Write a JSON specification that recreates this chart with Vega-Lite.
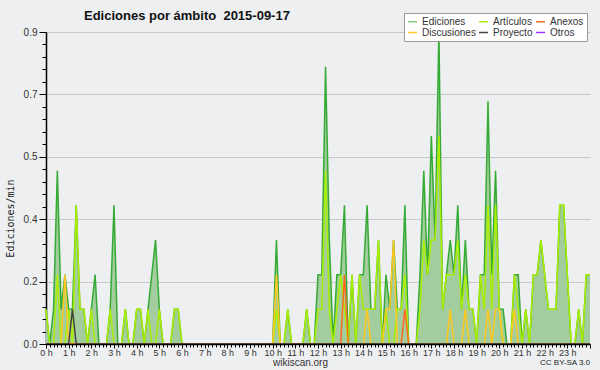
{
 "$schema": "https://vega.github.io/schema/vega-lite/v6.json",
 "width": 544,
 "height": 312,
 "autosize": {"type": "none"},
 "padding": {"left": 46, "top": 32, "right": 10, "bottom": 26},
 "background": "#eeeff1",
 "view": {"fill": "#eeeff1", "stroke": null},
 "title": {"text": "Ediciones por ámbito \u00a02015-09-17", "anchor": "start", "frame": "group", "dx": 38, "offset": -10, "font": "Liberation Sans", "fontSize": 13, "fontWeight": "bold", "color": "#111111"},
 "data": {"values": [
  {"t":0,"Ediciones":0.1,"Artículos":0.1,"Discusiones":0,"Anexos":0,"Proyecto":0},
  {"t":10,"Ediciones":0,"Artículos":0,"Discusiones":0,"Anexos":0,"Proyecto":0},
  {"t":20,"Ediciones":0.1,"Artículos":0,"Discusiones":0,"Anexos":0,"Proyecto":0},
  {"t":30,"Ediciones":0.5,"Artículos":0.2,"Discusiones":0,"Anexos":0,"Proyecto":0},
  {"t":40,"Ediciones":0.1,"Artículos":0,"Discusiones":0,"Anexos":0,"Proyecto":0},
  {"t":50,"Ediciones":0.2,"Artículos":0,"Discusiones":0.2,"Anexos":0,"Proyecto":0},
  {"t":60,"Ediciones":0.1,"Artículos":0.1,"Discusiones":0,"Anexos":0,"Proyecto":0},
  {"t":70,"Ediciones":0.1,"Artículos":0,"Discusiones":0,"Anexos":0,"Proyecto":0.1},
  {"t":80,"Ediciones":0.4,"Artículos":0.4,"Discusiones":0,"Anexos":0,"Proyecto":0},
  {"t":90,"Ediciones":0.1,"Artículos":0.1,"Discusiones":0,"Anexos":0,"Proyecto":0},
  {"t":100,"Ediciones":0.1,"Artículos":0.1,"Discusiones":0,"Anexos":0,"Proyecto":0},
  {"t":110,"Ediciones":0,"Artículos":0,"Discusiones":0,"Anexos":0,"Proyecto":0},
  {"t":120,"Ediciones":0.1,"Artículos":0.1,"Discusiones":0,"Anexos":0,"Proyecto":0},
  {"t":130,"Ediciones":0.2,"Artículos":0,"Discusiones":0,"Anexos":0,"Proyecto":0},
  {"t":140,"Ediciones":0,"Artículos":0,"Discusiones":0,"Anexos":0,"Proyecto":0},
  {"t":150,"Ediciones":0,"Artículos":0,"Discusiones":0,"Anexos":0,"Proyecto":0},
  {"t":160,"Ediciones":0,"Artículos":0,"Discusiones":0,"Anexos":0,"Proyecto":0},
  {"t":170,"Ediciones":0.1,"Artículos":0.1,"Discusiones":0,"Anexos":0,"Proyecto":0},
  {"t":180,"Ediciones":0.4,"Artículos":0,"Discusiones":0,"Anexos":0,"Proyecto":0},
  {"t":190,"Ediciones":0,"Artículos":0,"Discusiones":0,"Anexos":0,"Proyecto":0},
  {"t":200,"Ediciones":0,"Artículos":0,"Discusiones":0,"Anexos":0,"Proyecto":0},
  {"t":210,"Ediciones":0.1,"Artículos":0.1,"Discusiones":0,"Anexos":0,"Proyecto":0},
  {"t":220,"Ediciones":0,"Artículos":0,"Discusiones":0,"Anexos":0,"Proyecto":0},
  {"t":230,"Ediciones":0,"Artículos":0,"Discusiones":0,"Anexos":0,"Proyecto":0},
  {"t":240,"Ediciones":0.1,"Artículos":0.1,"Discusiones":0,"Anexos":0,"Proyecto":0},
  {"t":250,"Ediciones":0.1,"Artículos":0.1,"Discusiones":0,"Anexos":0,"Proyecto":0},
  {"t":260,"Ediciones":0,"Artículos":0,"Discusiones":0,"Anexos":0,"Proyecto":0},
  {"t":270,"Ediciones":0.1,"Artículos":0.1,"Discusiones":0,"Anexos":0,"Proyecto":0},
  {"t":280,"Ediciones":0.2,"Artículos":0,"Discusiones":0,"Anexos":0,"Proyecto":0},
  {"t":290,"Ediciones":0.3,"Artículos":0,"Discusiones":0,"Anexos":0,"Proyecto":0},
  {"t":300,"Ediciones":0.1,"Artículos":0.1,"Discusiones":0,"Anexos":0,"Proyecto":0},
  {"t":310,"Ediciones":0,"Artículos":0,"Discusiones":0,"Anexos":0,"Proyecto":0},
  {"t":320,"Ediciones":0,"Artículos":0,"Discusiones":0,"Anexos":0,"Proyecto":0},
  {"t":330,"Ediciones":0,"Artículos":0,"Discusiones":0,"Anexos":0,"Proyecto":0},
  {"t":340,"Ediciones":0.1,"Artículos":0.1,"Discusiones":0,"Anexos":0,"Proyecto":0},
  {"t":350,"Ediciones":0.1,"Artículos":0.1,"Discusiones":0,"Anexos":0,"Proyecto":0},
  {"t":360,"Ediciones":0,"Artículos":0,"Discusiones":0,"Anexos":0,"Proyecto":0},
  {"t":370,"Ediciones":0,"Artículos":0,"Discusiones":0,"Anexos":0,"Proyecto":0},
  {"t":380,"Ediciones":0,"Artículos":0,"Discusiones":0,"Anexos":0,"Proyecto":0},
  {"t":390,"Ediciones":0,"Artículos":0,"Discusiones":0,"Anexos":0,"Proyecto":0},
  {"t":400,"Ediciones":0,"Artículos":0,"Discusiones":0,"Anexos":0,"Proyecto":0},
  {"t":410,"Ediciones":0,"Artículos":0,"Discusiones":0,"Anexos":0,"Proyecto":0},
  {"t":420,"Ediciones":0,"Artículos":0,"Discusiones":0,"Anexos":0,"Proyecto":0},
  {"t":430,"Ediciones":0,"Artículos":0,"Discusiones":0,"Anexos":0,"Proyecto":0},
  {"t":440,"Ediciones":0,"Artículos":0,"Discusiones":0,"Anexos":0,"Proyecto":0},
  {"t":450,"Ediciones":0,"Artículos":0,"Discusiones":0,"Anexos":0,"Proyecto":0},
  {"t":460,"Ediciones":0,"Artículos":0,"Discusiones":0,"Anexos":0,"Proyecto":0},
  {"t":470,"Ediciones":0,"Artículos":0,"Discusiones":0,"Anexos":0,"Proyecto":0},
  {"t":480,"Ediciones":0,"Artículos":0,"Discusiones":0,"Anexos":0,"Proyecto":0},
  {"t":490,"Ediciones":0,"Artículos":0,"Discusiones":0,"Anexos":0,"Proyecto":0},
  {"t":500,"Ediciones":0,"Artículos":0,"Discusiones":0,"Anexos":0,"Proyecto":0},
  {"t":510,"Ediciones":0,"Artículos":0,"Discusiones":0,"Anexos":0,"Proyecto":0},
  {"t":520,"Ediciones":0,"Artículos":0,"Discusiones":0,"Anexos":0,"Proyecto":0},
  {"t":530,"Ediciones":0,"Artículos":0,"Discusiones":0,"Anexos":0,"Proyecto":0},
  {"t":540,"Ediciones":0,"Artículos":0,"Discusiones":0,"Anexos":0,"Proyecto":0},
  {"t":550,"Ediciones":0,"Artículos":0,"Discusiones":0,"Anexos":0,"Proyecto":0},
  {"t":560,"Ediciones":0,"Artículos":0,"Discusiones":0,"Anexos":0,"Proyecto":0},
  {"t":570,"Ediciones":0,"Artículos":0,"Discusiones":0,"Anexos":0,"Proyecto":0},
  {"t":580,"Ediciones":0,"Artículos":0,"Discusiones":0,"Anexos":0,"Proyecto":0},
  {"t":590,"Ediciones":0,"Artículos":0,"Discusiones":0,"Anexos":0,"Proyecto":0},
  {"t":600,"Ediciones":0,"Artículos":0,"Discusiones":0,"Anexos":0,"Proyecto":0},
  {"t":610,"Ediciones":0.3,"Artículos":0.1,"Discusiones":0.2,"Anexos":0,"Proyecto":0},
  {"t":620,"Ediciones":0,"Artículos":0,"Discusiones":0,"Anexos":0,"Proyecto":0},
  {"t":630,"Ediciones":0,"Artículos":0,"Discusiones":0,"Anexos":0,"Proyecto":0},
  {"t":640,"Ediciones":0.1,"Artículos":0.1,"Discusiones":0,"Anexos":0,"Proyecto":0},
  {"t":650,"Ediciones":0,"Artículos":0,"Discusiones":0,"Anexos":0,"Proyecto":0},
  {"t":660,"Ediciones":0,"Artículos":0,"Discusiones":0,"Anexos":0,"Proyecto":0},
  {"t":670,"Ediciones":0,"Artículos":0,"Discusiones":0,"Anexos":0,"Proyecto":0},
  {"t":680,"Ediciones":0,"Artículos":0,"Discusiones":0,"Anexos":0,"Proyecto":0},
  {"t":690,"Ediciones":0.1,"Artículos":0.1,"Discusiones":0,"Anexos":0,"Proyecto":0},
  {"t":700,"Ediciones":0,"Artículos":0,"Discusiones":0,"Anexos":0,"Proyecto":0},
  {"t":710,"Ediciones":0,"Artículos":0,"Discusiones":0,"Anexos":0,"Proyecto":0},
  {"t":720,"Ediciones":0.2,"Artículos":0.1,"Discusiones":0,"Anexos":0,"Proyecto":0},
  {"t":730,"Ediciones":0.2,"Artículos":0.1,"Discusiones":0,"Anexos":0,"Proyecto":0},
  {"t":740,"Ediciones":0.8,"Artículos":0.5,"Discusiones":0,"Anexos":0,"Proyecto":0},
  {"t":750,"Ediciones":0.3,"Artículos":0.1,"Discusiones":0,"Anexos":0,"Proyecto":0},
  {"t":760,"Ediciones":0,"Artículos":0,"Discusiones":0,"Anexos":0,"Proyecto":0},
  {"t":770,"Ediciones":0.2,"Artículos":0.1,"Discusiones":0,"Anexos":0,"Proyecto":0},
  {"t":780,"Ediciones":0.2,"Artículos":0.2,"Discusiones":0,"Anexos":0,"Proyecto":0},
  {"t":790,"Ediciones":0.4,"Artículos":0.1,"Discusiones":0,"Anexos":0.2,"Proyecto":0},
  {"t":800,"Ediciones":0,"Artículos":0,"Discusiones":0,"Anexos":0,"Proyecto":0},
  {"t":810,"Ediciones":0.2,"Artículos":0.2,"Discusiones":0,"Anexos":0,"Proyecto":0},
  {"t":820,"Ediciones":0,"Artículos":0,"Discusiones":0,"Anexos":0,"Proyecto":0},
  {"t":830,"Ediciones":0.2,"Artículos":0.2,"Discusiones":0,"Anexos":0,"Proyecto":0},
  {"t":840,"Ediciones":0.2,"Artículos":0.1,"Discusiones":0,"Anexos":0,"Proyecto":0},
  {"t":850,"Ediciones":0.4,"Artículos":0.1,"Discusiones":0.1,"Anexos":0,"Proyecto":0},
  {"t":860,"Ediciones":0.1,"Artículos":0.1,"Discusiones":0,"Anexos":0,"Proyecto":0},
  {"t":870,"Ediciones":0.1,"Artículos":0.1,"Discusiones":0,"Anexos":0,"Proyecto":0},
  {"t":880,"Ediciones":0.3,"Artículos":0.3,"Discusiones":0,"Anexos":0,"Proyecto":0},
  {"t":890,"Ediciones":0,"Artículos":0,"Discusiones":0,"Anexos":0,"Proyecto":0},
  {"t":900,"Ediciones":0.2,"Artículos":0.1,"Discusiones":0.1,"Anexos":0,"Proyecto":0},
  {"t":910,"Ediciones":0.1,"Artículos":0,"Discusiones":0.1,"Anexos":0,"Proyecto":0},
  {"t":920,"Ediciones":0.3,"Artículos":0,"Discusiones":0.3,"Anexos":0,"Proyecto":0},
  {"t":930,"Ediciones":0.1,"Artículos":0.1,"Discusiones":0,"Anexos":0,"Proyecto":0},
  {"t":940,"Ediciones":0.1,"Artículos":0.1,"Discusiones":0,"Anexos":0,"Proyecto":0},
  {"t":950,"Ediciones":0.4,"Artículos":0.2,"Discusiones":0,"Anexos":0.1,"Proyecto":0},
  {"t":960,"Ediciones":0,"Artículos":0,"Discusiones":0,"Anexos":0,"Proyecto":0},
  {"t":970,"Ediciones":0,"Artículos":0,"Discusiones":0,"Anexos":0,"Proyecto":0},
  {"t":980,"Ediciones":0,"Artículos":0,"Discusiones":0,"Anexos":0,"Proyecto":0},
  {"t":990,"Ediciones":0.2,"Artículos":0.1,"Discusiones":0,"Anexos":0,"Proyecto":0},
  {"t":1000,"Ediciones":0.5,"Artículos":0.3,"Discusiones":0,"Anexos":0,"Proyecto":0},
  {"t":1010,"Ediciones":0.2,"Artículos":0.2,"Discusiones":0,"Anexos":0,"Proyecto":0},
  {"t":1020,"Ediciones":0.6,"Artículos":0.3,"Discusiones":0,"Anexos":0,"Proyecto":0},
  {"t":1030,"Ediciones":0.3,"Artículos":0.3,"Discusiones":0,"Anexos":0,"Proyecto":0},
  {"t":1040,"Ediciones":0.9,"Artículos":0.6,"Discusiones":0,"Anexos":0,"Proyecto":0},
  {"t":1050,"Ediciones":0.1,"Artículos":0.1,"Discusiones":0,"Anexos":0,"Proyecto":0},
  {"t":1060,"Ediciones":0.2,"Artículos":0.2,"Discusiones":0,"Anexos":0,"Proyecto":0},
  {"t":1070,"Ediciones":0.3,"Artículos":0.2,"Discusiones":0.1,"Anexos":0,"Proyecto":0},
  {"t":1080,"Ediciones":0.2,"Artículos":0.2,"Discusiones":0,"Anexos":0,"Proyecto":0},
  {"t":1090,"Ediciones":0.4,"Artículos":0.3,"Discusiones":0,"Anexos":0,"Proyecto":0},
  {"t":1100,"Ediciones":0.1,"Artículos":0.1,"Discusiones":0,"Anexos":0,"Proyecto":0},
  {"t":1110,"Ediciones":0.3,"Artículos":0.2,"Discusiones":0.1,"Anexos":0,"Proyecto":0},
  {"t":1120,"Ediciones":0.1,"Artículos":0.1,"Discusiones":0,"Anexos":0,"Proyecto":0},
  {"t":1130,"Ediciones":0.1,"Artículos":0.1,"Discusiones":0,"Anexos":0,"Proyecto":0},
  {"t":1140,"Ediciones":0,"Artículos":0,"Discusiones":0,"Anexos":0,"Proyecto":0},
  {"t":1150,"Ediciones":0.2,"Artículos":0.2,"Discusiones":0,"Anexos":0,"Proyecto":0},
  {"t":1160,"Ediciones":0.2,"Artículos":0.1,"Discusiones":0,"Anexos":0,"Proyecto":0},
  {"t":1170,"Ediciones":0.7,"Artículos":0.4,"Discusiones":0.1,"Anexos":0,"Proyecto":0},
  {"t":1180,"Ediciones":0.2,"Artículos":0.1,"Discusiones":0,"Anexos":0,"Proyecto":0},
  {"t":1190,"Ediciones":0.5,"Artículos":0.4,"Discusiones":0.1,"Anexos":0,"Proyecto":0},
  {"t":1200,"Ediciones":0.1,"Artículos":0.1,"Discusiones":0.1,"Anexos":0,"Proyecto":0},
  {"t":1210,"Ediciones":0.1,"Artículos":0,"Discusiones":0,"Anexos":0,"Proyecto":0},
  {"t":1220,"Ediciones":0,"Artículos":0,"Discusiones":0,"Anexos":0,"Proyecto":0},
  {"t":1230,"Ediciones":0,"Artículos":0,"Discusiones":0,"Anexos":0,"Proyecto":0},
  {"t":1240,"Ediciones":0.2,"Artículos":0.2,"Discusiones":0.1,"Anexos":0,"Proyecto":0},
  {"t":1250,"Ediciones":0.2,"Artículos":0.1,"Discusiones":0,"Anexos":0,"Proyecto":0},
  {"t":1260,"Ediciones":0,"Artículos":0,"Discusiones":0,"Anexos":0,"Proyecto":0},
  {"t":1270,"Ediciones":0.1,"Artículos":0.1,"Discusiones":0,"Anexos":0,"Proyecto":0},
  {"t":1280,"Ediciones":0,"Artículos":0,"Discusiones":0,"Anexos":0,"Proyecto":0},
  {"t":1290,"Ediciones":0.2,"Artículos":0.2,"Discusiones":0,"Anexos":0,"Proyecto":0},
  {"t":1300,"Ediciones":0.2,"Artículos":0.2,"Discusiones":0,"Anexos":0,"Proyecto":0},
  {"t":1310,"Ediciones":0.3,"Artículos":0.3,"Discusiones":0,"Anexos":0,"Proyecto":0},
  {"t":1320,"Ediciones":0.2,"Artículos":0.2,"Discusiones":0,"Anexos":0,"Proyecto":0},
  {"t":1330,"Ediciones":0.1,"Artículos":0.1,"Discusiones":0,"Anexos":0,"Proyecto":0},
  {"t":1340,"Ediciones":0.1,"Artículos":0.1,"Discusiones":0,"Anexos":0,"Proyecto":0},
  {"t":1350,"Ediciones":0.1,"Artículos":0.1,"Discusiones":0,"Anexos":0,"Proyecto":0},
  {"t":1360,"Ediciones":0.4,"Artículos":0.4,"Discusiones":0,"Anexos":0,"Proyecto":0},
  {"t":1370,"Ediciones":0.4,"Artículos":0.4,"Discusiones":0,"Anexos":0,"Proyecto":0},
  {"t":1380,"Ediciones":0.2,"Artículos":0.2,"Discusiones":0,"Anexos":0,"Proyecto":0},
  {"t":1390,"Ediciones":0,"Artículos":0,"Discusiones":0,"Anexos":0,"Proyecto":0},
  {"t":1400,"Ediciones":0,"Artículos":0,"Discusiones":0,"Anexos":0,"Proyecto":0},
  {"t":1410,"Ediciones":0.1,"Artículos":0.1,"Discusiones":0,"Anexos":0,"Proyecto":0},
  {"t":1420,"Ediciones":0,"Artículos":0,"Discusiones":0,"Anexos":0,"Proyecto":0},
  {"t":1430,"Ediciones":0.2,"Artículos":0.2,"Discusiones":0,"Anexos":0,"Proyecto":0},
  {"t":1440,"Ediciones":0.2,"Artículos":0.2,"Discusiones":0,"Anexos":0,"Proyecto":0}
 ]},
 "transform": [{"fold": ["Ediciones", "Artículos", "Discusiones", "Anexos", "Proyecto"], "as": ["serie", "v"]}],
 "encoding": {
  "x": {"field": "t", "type": "quantitative",
   "scale": {"domain": [0, 1440], "nice": false, "zero": false},
   "axis": {
    "values": [0,10,20,30,40,50,60,70,80,90,100,110,120,130,140,150,160,170,180,190,200,210,220,230,240,250,260,270,280,290,300,310,320,330,340,350,360,370,380,390,400,410,420,430,440,450,460,470,480,490,500,510,520,530,540,550,560,570,580,590,600,610,620,630,640,650,660,670,680,690,700,710,720,730,740,750,760,770,780,790,800,810,820,830,840,850,860,870,880,890,900,910,920,930,940,950,960,970,980,990,1000,1010,1020,1030,1040,1050,1060,1070,1080,1090,1100,1110,1120,1130,1140,1150,1160,1170,1180,1190,1200,1210,1220,1230,1240,1250,1260,1270,1280,1290,1300,1310,1320,1330,1340,1350,1360,1370,1380,1390,1400,1410,1420,1430,1440],
    "labelExpr": "datum.value % 60 === 0 && datum.value < 1440 ? (datum.value / 60) + ' h' : ''",
    "labelFont": "Liberation Sans", "labelFontSize": 9, "labelColor": "#333333", "labelPadding": 0,
    "labelOverlap": false, "labelFlush": false, "labelBound": false,
    "tickSize": {"condition": {"test": "datum.value % 60 === 0", "value": 4}, "value": 3},
    "tickColor": "#000000", "tickWidth": 1,
    "domainColor": "#000000", "domainWidth": 1.5,
    "grid": false, "zindex": 1,
    "title": "wikiscan.org", "titleFont": "Liberation Sans", "titleFontSize": 10, "titleFontWeight": "normal", "titleColor": "#333333",
    "titleX": 254, "titleY": 21, "titleBaseline": "alphabetic", "titleAlign": "center"
   }
  },
  "y": {"field": "v", "type": "quantitative",
   "scale": {"domain": [0, 0.9], "nice": false},
   "axis": {
    "values": [0,0.036,0.072,0.108,0.144,0.18,0.216,0.252,0.288,0.324,0.36,0.396,0.432,0.468,0.504,0.54,0.576,0.612,0.648,0.684,0.72,0.756,0.792,0.828,0.864,0.9],
    "labelExpr": "abs(datum.value / 0.18 - round(datum.value / 0.18)) < 0.001 ? format(datum.value, '.1f') : ''",
    "labelFont": "Liberation Sans", "labelFontSize": 10, "labelColor": "#333333", "labelPadding": 2,
    "labelOverlap": false, "labelFlush": false, "labelBound": false,
    "tickSize": {"condition": {"test": "abs(datum.value / 0.18 - round(datum.value / 0.18)) < 0.001", "value": 7}, "value": 4},
    "tickColor": "#000000", "tickWidth": 1,
    "domainColor": "#000000", "domainWidth": 1.5,
    "grid": true, "gridColor": "#c8c8c8", "gridWidth": 1,
    "gridOpacity": {"condition": {"test": "abs(datum.value / 0.18 - round(datum.value / 0.18)) < 0.001", "value": 1}, "value": 0},
    "title": "Ediciones/min", "titleFont": "DejaVu Sans Mono", "titleFontSize": 10, "titleFontWeight": "normal", "titleColor": "#222222",
    "titlePadding": 8, "titleY": 186, "titleAlign": "center"
   }
  }
 },
 "layer": [
  {"transform": [{"filter": "datum.serie === 'Ediciones'"}],
   "mark": {"type": "area", "color": "#a3cd9f", "interpolate": "linear"}},
  {"transform": [{"filter": "datum.serie === 'Ediciones'"}],
   "mark": {"type": "line", "color": "#35ab35", "strokeWidth": 1.5}},
  {"transform": [{"filter": "datum.serie !== 'Ediciones'"}],
   "mark": {"type": "line", "strokeWidth": 1.5},
   "encoding": {
    "color": {"field": "serie", "type": "nominal",
     "scale": {"domain": ["Ediciones", "Artículos", "Anexos", "Discusiones", "Proyecto", "Otros"],
               "range": ["#7fcf7f", "#aaee00", "#ff6a1f", "#ffc820", "#444444", "#9a33ff"]},
     "legend": {"orient": "none", "legendX": 358, "legendY": -19, "direction": "horizontal", "columns": 3, "title": null,
                "fillColor": "#ffffff", "strokeColor": "#9a9a9a", "padding": 3, "columnPadding": 0, "rowPadding": -2,
                "labelFont": "Liberation Sans", "labelFontSize": 10, "labelColor": "#333333", "labelOffset": 4, "labelLimit": 200,
                "symbolType": "stroke", "symbolSize": 81, "symbolStrokeWidth": 1.5}
    }
   }},
  {"transform": [{"filter": "datum.serie === 'Anexos' && datum.t === 1440"}],
   "mark": {"type": "text", "align": "right", "baseline": "alphabetic", "dy": 21, "fontSize": 8, "font": "Liberation Sans", "color": "#222222"},
   "encoding": {"text": {"value": "CC BY-SA 3.0"}}}
 ]
}
